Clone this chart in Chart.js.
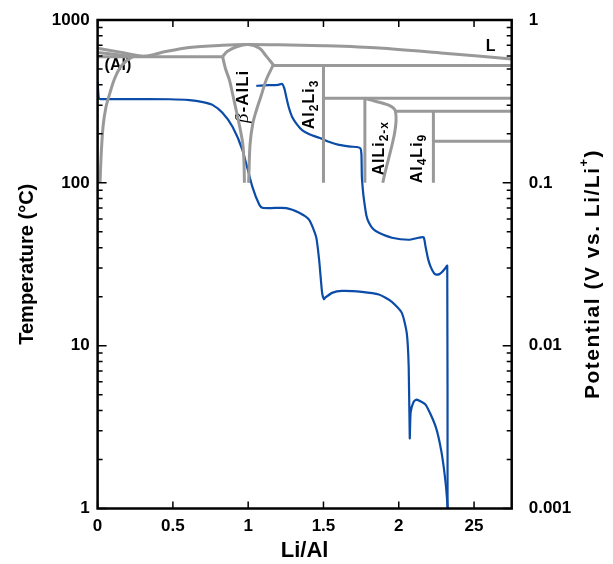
<!DOCTYPE html>
<html>
<head>
<meta charset="utf-8">
<script src="https://cdn.jsdelivr.net/npm/chart.js@4.4.1/dist/chart.umd.min.js"></script>
<style>
  html, body { margin: 0; padding: 0; background: #fff; }
</style>
</head>
<body>
<canvas id="chart" width="613" height="564"></canvas>
<script>
// x = Li/Al, left axis = temperature (°C), right axis = potential (V vs. Li/Li+)

// blue potential curve, first branch
const lowerX = [0.0, 0.008, 0.02, 0.2, 0.48, 0.61, 0.70, 0.763, 0.829, 0.896, 0.962, 1.028, 1.074, 1.094, 1.15, 1.253,
  1.339, 1.405, 1.451, 1.471, 1.491, 1.503, 1.511, 1.557, 1.623, 1.755, 1.868, 1.954, 2.02, 2.053, 2.066, 2.073,
  2.079, 2.099, 2.119, 2.178, 2.245, 2.284, 2.311, 2.324, 2.327];
const lowerV = [0.42, 0.33, 0.327, 0.327, 0.326, 0.322, 0.313, 0.301, 0.269, 0.221, 0.159, 0.0945, 0.0733, 0.0703, 0.070, 0.070,
  0.0655, 0.0593, 0.0466, 0.0337, 0.0211, 0.0193, 0.0197, 0.0211, 0.0217, 0.0214, 0.0206, 0.0186, 0.0159, 0.012, 0.0074, 0.0027,
  0.0039, 0.00453, 0.00466, 0.00435, 0.00318, 0.00221, 0.00144, 0.00103, 0.0009];

// blue potential curve, second branch
const upperX = [1.054, 1.1, 1.2, 1.226, 1.24, 1.253, 1.27, 1.292, 1.325, 1.358, 1.41, 1.471, 1.54, 1.603, 1.68, 1.722, 1.745,
  1.752, 1.755, 1.762, 1.769, 1.785, 1.802, 1.83, 1.868, 1.954, 2.066, 2.132, 2.165, 2.178, 2.195, 2.212, 2.235, 2.251,
  2.27, 2.284, 2.31, 2.322, 2.324];
const upperV = [0.394, 0.397, 0.400, 0.405, 0.38, 0.337, 0.29, 0.254, 0.228, 0.211, 0.198, 0.189, 0.178, 0.171, 0.167, 0.166, 0.163,
  0.15, 0.109, 0.09, 0.0787, 0.063, 0.0568, 0.052, 0.0493, 0.046, 0.0447, 0.046, 0.0463, 0.0405, 0.034, 0.0305, 0.0278, 0.0273,
  0.0275, 0.0281, 0.0300, 0.031, 0.0009];

// phase diagram boundaries (gray)
const liquidusX = [0, 0.15, 0.31, 0.45, 0.61, 0.83, 0.99, 1.2, 1.5, 1.87, 2.3, 2.75];
const liquidusT = [670, 635, 600, 640, 678, 700, 708, 705, 695, 673, 625, 576];
const solidusX = [0, 0.215];
const solidusT = [632, 600];
const eutecticX = [0, 0.83];
const eutecticT = [595, 595];
const solvusX = [0.016, 0.024, 0.036, 0.055, 0.082, 0.11, 0.148, 0.19, 0.234];
const solvusT = [100, 150, 221, 290, 357, 430, 508, 560, 595];
const betaTopX = [0.83, 0.86, 0.923, 1.0, 1.075, 1.12, 1.17];
const betaTopT = [595, 640, 685, 706, 670, 600, 526];
const betaLeftX = [0.83, 0.85, 0.876, 0.9, 0.92, 0.944, 0.964, 0.972, 0.975];
const betaLeftT = [595, 500, 426, 340, 280, 220, 174, 135, 100];
const betaRightX = [1.165, 1.12, 1.085, 1.055, 1.03, 1.012, 1.003];
const betaRightT = [526, 430, 340, 280, 230, 170, 100];
const line526X = [1.165, 2.75];
const line526T = [526, 526];
const al2li3X = [1.5, 1.5];
const al2li3T = [526, 100];
const line331X = [1.5, 2.75];
const line331T = [331, 331];
const alli2LeftX = [1.775, 1.775];
const alli2LeftT = [331, 100];
const alli2RightX = [1.775, 1.978, 1.894];
const alli2RightT = [331, 275, 100];
const line275X = [1.978, 2.75];
const line275T = [275, 275];
const al4li9X = [2.23, 2.23];
const al4li9T = [275, 100];
const line180X = [2.23, 2.75];
const line180T = [180, 180];

// axis ticks
const xTickValues = [0, 0.5, 1, 1.5, 2, 2.5];
const xTickLabels = ['0', '0.5', '1', '1.5', '2', '25'];
const tempDecades = [1, 10, 100, 1000];
const potDecades = [0.001, 0.01, 0.1, 1];
const potLabels = ['0.001', '0.01', '0.1', '1'];

// phase labels: [x, temperature, text pieces]
const phaseLabels = [
  { x: 2.61, t: 688, rot: 0, size: 16, parts: [['L', 'b']] },
  { x: 0.135, t: 526, rot: 0, size: 16, parts: [['(Al)', 'b']] },
  { x: 0.965, t: 340, rot: -1, size: 17, parts: [['β', 'g'], ['-AlLi', 'b']] },
  { x: 1.41, t: 303, rot: -1, size: 16, parts: [['Al', 'b'], ['2', 's'], ['Li', 'b'], ['3', 's']] },
  { x: 1.875, t: 163, rot: -1, size: 16, parts: [['AlLi', 'b'], ['2-x', 's']] },
  { x: 2.128, t: 141, rot: -1, size: 16, parts: [['Al', 'b'], ['4', 's'], ['Li', 'b'], ['9', 's']] },
];

const FONT = '"Liberation Sans", Arial, sans-serif';
const GRAY = '#999999';
const BLUE = '#0b4ca8';

function pts(xs, ys) {
  return xs.map((x, i) => ({ x: x, y: ys[i] }));
}

function grayLine(xs, ys) {
  return { data: pts(xs, ys), yAxisID: 'y', borderColor: GRAY, borderWidth: 3, pointRadius: 0, tension: 0.3 };
}

function decadeTicks(decades) {
  const out = [];
  for (let i = 0; i < decades.length; i++) {
    out.push(decades[i]);
    if (i < decades.length - 1) {
      for (let k = 2; k <= 9; k++) out.push(decades[i] * k);
    }
  }
  return out.map((v) => ({ value: v }));
}

function isDecade(v) {
  const l = Math.log10(v);
  return Math.abs(l - Math.round(l)) < 1e-6;
}

function drawParts(ctx, parts, cx, cy, rot, size) {
  const fonts = {
    b: 'bold ' + size + 'px ' + FONT,
    s: 'bold ' + Math.round(size * 0.75) + 'px ' + FONT,
    g: 'italic ' + (size + 2) + 'px "Liberation Serif", serif',
  };
  ctx.save();
  ctx.translate(cx, cy);
  ctx.rotate(rot * Math.PI / 2);
  ctx.letterSpacing = rot ? '1px' : '0px';
  let total = 0;
  const widths = parts.map((p) => {
    ctx.font = fonts[p[1]];
    const w = ctx.measureText(p[0]).width;
    total += w;
    return w;
  });
  let x = -total / 2;
  ctx.textBaseline = 'middle';
  ctx.textAlign = 'left';
  ctx.fillStyle = '#000';
  parts.forEach((p, i) => {
    ctx.font = fonts[p[1]];
    ctx.fillText(p[0], x, p[1] === 's' ? 5 : 0);
    x += widths[i];
  });
  ctx.restore();
}

const decorPlugin = {
  id: 'decor',
  beforeDatasetsDraw(chart) {
    const ctx = chart.ctx;
    const xs = chart.scales.x;
    const ys = chart.scales.y;
    phaseLabels.forEach((lab) => {
      drawParts(ctx, lab.parts, xs.getPixelForValue(lab.x), ys.getPixelForValue(lab.t), lab.rot, lab.size);
    });
  },
  afterDraw(chart) {
    const ctx = chart.ctx;
    const a = chart.chartArea;
    const xs = chart.scales.x;
    ctx.save();
    ctx.strokeStyle = '#000';
    ctx.lineWidth = 1.5;
    ctx.beginPath();
    // left / right inward ticks
    [['y', a.left, 1], ['y2', a.right, -1]].forEach(([id, x0, dir]) => {
      const s = chart.scales[id];
      s.ticks.forEach((t) => {
        const py = s.getPixelForValue(t.value);
        const len = isDecade(t.value) ? 9 : 5;
        ctx.moveTo(x0, py);
        ctx.lineTo(x0 + dir * len, py);
      });
    });
    // top / bottom inward ticks
    xTickValues.forEach((v) => {
      const px = xs.getPixelForValue(v);
      ctx.moveTo(px, a.bottom);
      ctx.lineTo(px, a.bottom - 7);
      ctx.moveTo(px, a.top);
      ctx.lineTo(px, a.top + 7);
    });
    ctx.stroke();
    // frame
    ctx.lineWidth = 2.5;
    ctx.strokeRect(a.left, a.top, a.right - a.left, a.bottom - a.top);

    // axis titles
    ctx.fillStyle = '#000';
    ctx.textAlign = 'center';
    ctx.textBaseline = 'middle';
    ctx.font = 'bold 22px ' + FONT;
    ctx.fillText('Li/Al', (a.left + a.right) / 2, 551);
    ctx.restore();

    drawTitle(ctx, [['Temperature (°C)', 0]], 27, (a.top + a.bottom) / 2, 20, 0);
    drawTitle(ctx, [['Potential (V vs. Li/Li', 0], ['+', 1], [')', 0]], 593, 274, 21, 1.5);
  },
};

function drawTitle(ctx, parts, cx, cy, size, spacing) {
  const big = 'bold ' + size + 'px ' + FONT;
  const sup = 'bold 13px ' + FONT;
  ctx.save();
  ctx.translate(cx, cy);
  ctx.rotate(-Math.PI / 2);
  ctx.fillStyle = '#000';
  ctx.textBaseline = 'middle';
  ctx.textAlign = 'left';
  ctx.letterSpacing = spacing + 'px';
  let total = 0;
  const widths = parts.map((p) => {
    ctx.font = p[1] ? sup : big;
    const w = ctx.measureText(p[0]).width;
    total += w;
    return w;
  });
  let x = -total / 2;
  parts.forEach((p, i) => {
    ctx.font = p[1] ? sup : big;
    ctx.fillText(p[0], x, p[1] ? -9 : 0);
    x += widths[i];
  });
  ctx.restore();
}

const tickFont = { family: FONT, size: 17, weight: 'bold' };

function noPadY(s, w) {
  s.width = w;
  s.paddingTop = 0;
  s.paddingBottom = 0;
}

new Chart(document.getElementById('chart'), {
  type: 'line',
  data: {
    datasets: [
      grayLine(liquidusX, liquidusT),
      grayLine(solidusX, solidusT),
      grayLine(eutecticX, eutecticT),
      grayLine(solvusX, solvusT),
      grayLine(betaTopX, betaTopT),
      grayLine(betaLeftX, betaLeftT),
      grayLine(betaRightX, betaRightT),
      grayLine(line526X, line526T),
      grayLine(al2li3X, al2li3T),
      grayLine(line331X, line331T),
      grayLine(alli2LeftX, alli2LeftT),
      grayLine(alli2RightX, alli2RightT),
      grayLine(line275X, line275T),
      grayLine(al4li9X, al4li9T),
      grayLine(line180X, line180T),
      { data: pts(lowerX, lowerV), yAxisID: 'y2', borderColor: BLUE, borderWidth: 2.2, pointRadius: 0, tension: 0.2 },
      { data: pts(upperX, upperV), yAxisID: 'y2', borderColor: BLUE, borderWidth: 2.2, pointRadius: 0, tension: 0.2 },
    ],
  },
  options: {
    responsive: false,
    animation: false,
    devicePixelRatio: 1,
    layout: { padding: { top: 20, left: 0, right: 0, bottom: 0 } },
    plugins: { legend: { display: false }, tooltip: { enabled: false } },
    scales: {
      x: {
        type: 'linear',
        min: 0,
        max: 2.75,
        grid: { display: false, drawTicks: false },
        border: { display: false },
        afterBuildTicks: (s) => { s.ticks = xTickValues.map((v) => ({ value: v })); },
        afterFit: (s) => { s.height = 55.5; s.paddingLeft = 0; s.paddingRight = 0; },
        ticks: {
          autoSkip: false,
          maxRotation: 0,
          padding: 8,
          color: '#000',
          font: tickFont,
          callback: (v) => xTickLabels[xTickValues.indexOf(v)],
        },
      },
      y: {
        type: 'logarithmic',
        position: 'left',
        min: 1,
        max: 1000,
        grid: { display: false, drawTicks: false },
        border: { display: false },
        afterBuildTicks: (s) => { s.ticks = decadeTicks(tempDecades); },
        afterFit: (s) => noPadY(s, 97.6),
        ticks: {
          autoSkip: false,
          padding: 8,
          color: '#000',
          font: tickFont,
          callback: (v) => (tempDecades.includes(v) ? String(v) : ''),
        },
      },
      y2: {
        type: 'logarithmic',
        position: 'right',
        min: 0.001,
        max: 1,
        grid: { display: false, drawTicks: false },
        border: { display: false },
        afterBuildTicks: (s) => { s.ticks = decadeTicks(potDecades); },
        afterFit: (s) => noPadY(s, 101.3),
        ticks: {
          autoSkip: false,
          padding: 17,
          color: '#000',
          font: tickFont,
          callback: (v) => {
            const i = potDecades.findIndex((d) => Math.abs(d - v) < d * 1e-6);
            return i >= 0 ? potLabels[i] : '';
          },
        },
      },
    },
  },
  plugins: [decorPlugin],
});
</script>
</body>
</html>
